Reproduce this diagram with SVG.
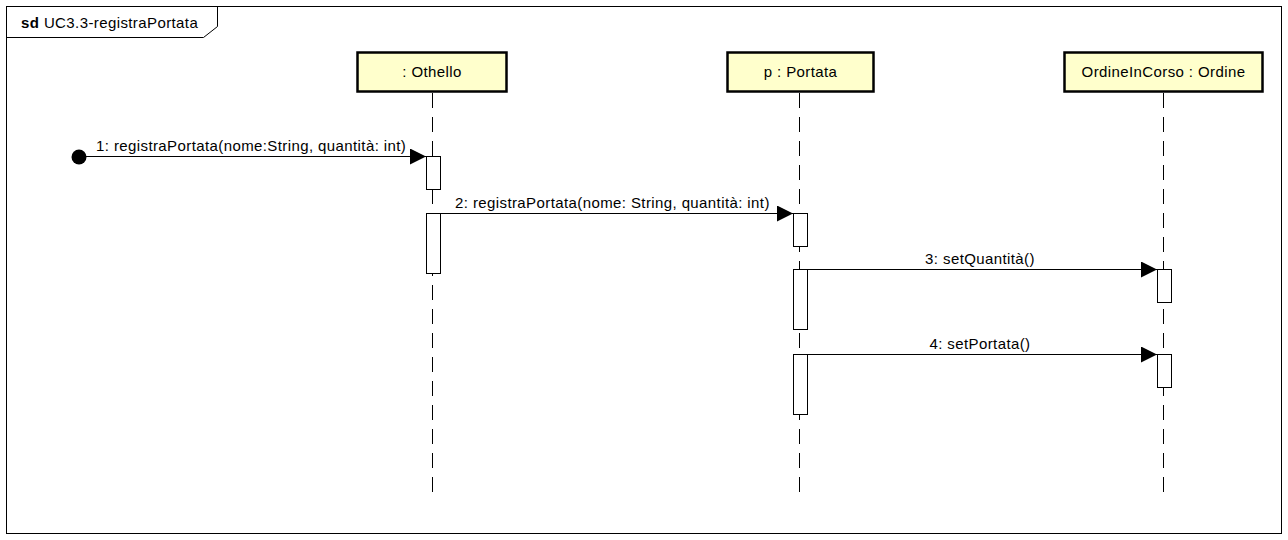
<svg xmlns="http://www.w3.org/2000/svg" width="1288" height="540" viewBox="0 0 1288 540">
<style>
text{font-family:"Liberation Sans",Arial,sans-serif;font-size:15px;letter-spacing:0.4px;fill:#000}
.box{fill:#FFFFCC;stroke:#000;stroke-width:2.5}
.life{stroke:#000;stroke-width:1;stroke-dasharray:15 9;fill:none}
.act{fill:#fff;stroke:#000;stroke-width:1}
.msg{stroke:#000;stroke-width:1;fill:none}
</style>
<defs>
<marker id="arr" markerWidth="16" markerHeight="16" refX="16" refY="8" orient="auto" markerUnits="userSpaceOnUse">
<path d="M0,0 L16,8 L0,16 Z" fill="#000"/>
</marker>
</defs>
<rect width="1288" height="540" fill="#fff"/>
<g id="frame">
<rect x="6.5" y="6.5" width="1275" height="527" fill="none" stroke="#000"/>
<path d="M6.5,37.5 H203.5 L217.5,26.5 V6.5" fill="none" stroke="#000"/>
<text x="21" y="28"><tspan font-weight="bold">sd</tspan> UC3.3-registraPortata</text>
</g>
<g id="othello">
<rect class="box" x="357.5" y="52.5" width="149" height="39"/>
<text x="432" y="77" text-anchor="middle">: Othello</text>
<line class="life" x1="432.5" y1="93" x2="432.5" y2="494"/>
</g>
<g id="portata">
<rect class="box" x="727.5" y="52.5" width="146" height="39"/>
<text x="800.5" y="77" text-anchor="middle">p : Portata</text>
<line class="life" x1="799.5" y1="93" x2="799.5" y2="494"/>
</g>
<g id="ordine">
<rect class="box" x="1064.5" y="52.5" width="198" height="39"/>
<text x="1163.5" y="77" text-anchor="middle">OrdineInCorso : Ordine</text>
<line class="life" x1="1163.5" y1="93" x2="1163.5" y2="494"/>
</g>
<g id="activations">
<rect class="act" x="426.5" y="156.5" width="14" height="33"/>
<rect class="act" x="426.5" y="213.5" width="14" height="60"/>
<rect class="act" x="793.5" y="213.5" width="14" height="33"/>
<rect class="act" x="793.5" y="269.5" width="14" height="60"/>
<rect class="act" x="1157.5" y="269.5" width="14" height="33"/>
<rect class="act" x="793.5" y="354.5" width="14" height="60"/>
<rect class="act" x="1157.5" y="354.5" width="14" height="33"/>
</g>
<g id="connectors">
<circle cx="79" cy="157" r="7.5" fill="#000"/>
<line class="msg" x1="79" y1="156.5" x2="426" y2="156.5" marker-end="url(#arr)"/>
<text x="96" y="151">1: registraPortata(nome:String, quantità: int)</text>
<line class="msg" x1="441" y1="213.5" x2="793" y2="213.5" marker-end="url(#arr)"/>
<text x="455" y="208">2: registraPortata(nome: String, quantità: int)</text>
<line class="msg" x1="808" y1="269.5" x2="1157" y2="269.5" marker-end="url(#arr)"/>
<text x="980" y="264" text-anchor="middle">3: setQuantità()</text>
<line class="msg" x1="808" y1="354.5" x2="1157" y2="354.5" marker-end="url(#arr)"/>
<text x="980" y="349" text-anchor="middle">4: setPortata()</text>
</g>
</svg>
